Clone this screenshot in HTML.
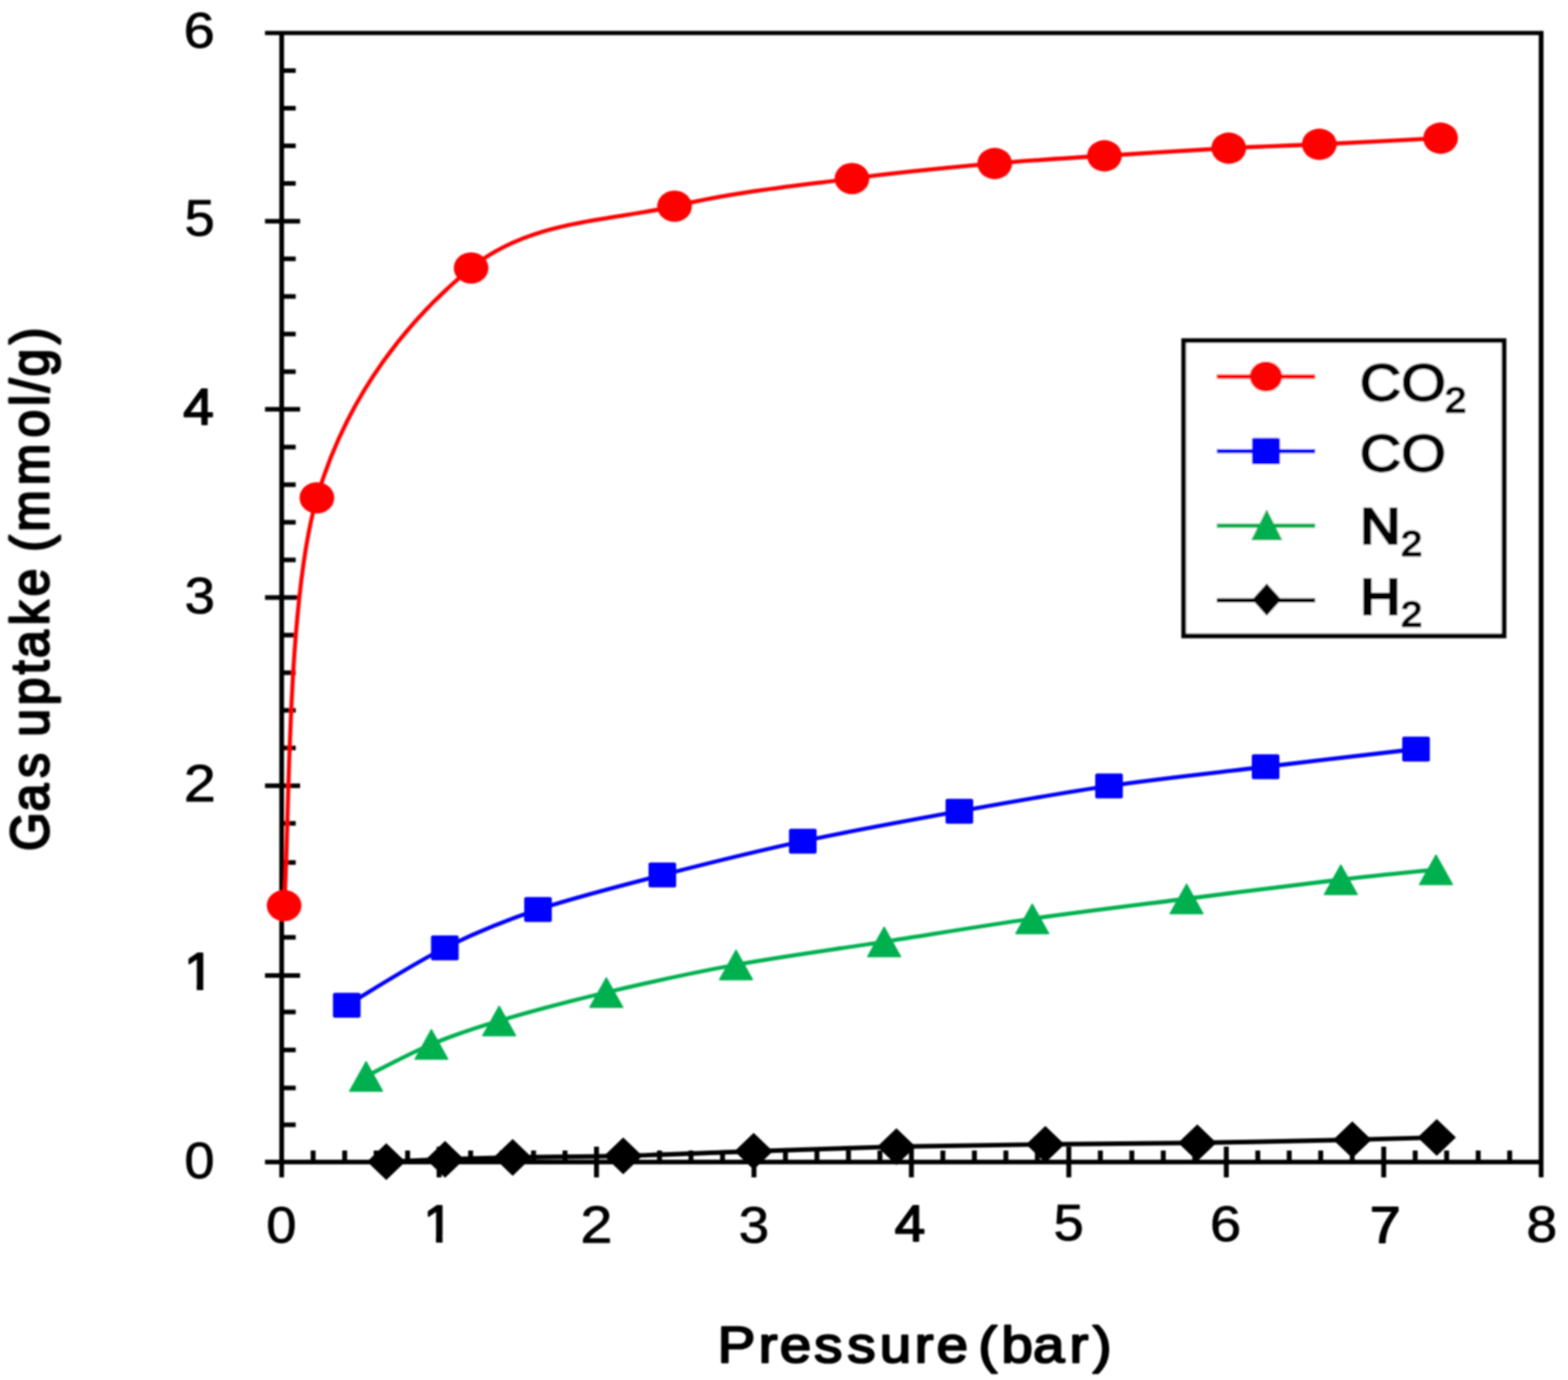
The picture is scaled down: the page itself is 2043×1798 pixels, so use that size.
<!DOCTYPE html>
<html lang="en"><head><meta charset="utf-8"><title>Gas uptake vs pressure</title>
<style>html,body{margin:0;padding:0;background:#fff;}body{width:2043px;height:1798px;overflow:hidden;}svg{display:block;}text{font-family:"Liberation Sans",sans-serif;fill:#000;}.t{stroke:#000;stroke-width:2.4px;stroke-linejoin:round;}</style></head><body>
<svg xmlns="http://www.w3.org/2000/svg" width="2043" height="1798" viewBox="0 0 2043 1798">
<defs><filter id="soft" x="-2%" y="-2%" width="104%" height="104%"><feGaussianBlur stdDeviation="1.1"/></filter><clipPath id="one"><rect x="-5" y="-80" width="80" height="72.65"/><rect x="15.90" y="-80" width="8.17" height="90"/></clipPath></defs>
<rect width="2043" height="1798" fill="#fff"/>
<g filter="url(#soft)">
<g stroke="#000" fill="none" stroke-linecap="butt">
<path d="M345.3 43.0 H2011.1" stroke-width="5.6"/>
<path d="M2008.0 43.0 V1534.0" stroke-width="6.2"/>
<path d="M367.0 43.0 V1534.0" stroke-width="6.2"/>
<path d="M345.3 1514.0 H2008.0" stroke-width="6.2"/>
<path d="M367.0 1465.5 H385.3 M367.0 1417.6 H385.3 M367.0 1367.9 H385.3 M367.0 1318.4 H385.3 M345.3 1271.0 H391.0 M367.0 1221.2 H385.3 M367.0 1172.3 H385.3 M367.0 1123.7 H385.3 M367.0 1072.7 H385.3 M345.3 1023.7 H391.0 M367.0 974.6 H385.3 M367.0 925.6 H385.3 M367.0 876.6 H385.3 M367.0 827.5 H385.3 M345.3 778.5 H391.0 M367.0 729.5 H385.3 M367.0 680.4 H385.3 M367.0 631.4 H385.3 M367.0 582.4 H385.3 M345.3 533.3 H391.0 M367.0 484.3 H385.3 M367.0 435.3 H385.3 M367.0 386.2 H385.3 M367.0 337.2 H385.3 M345.3 288.2 H391.0 M367.0 239.1 H385.3 M367.0 190.1 H385.3 M367.0 141.1 H385.3 M367.0 92.0 H385.3" stroke-width="6"/>
<path d="M408.0 1499.0 V1514.0 M449.1 1499.0 V1514.0 M490.1 1499.0 V1514.0 M531.1 1499.0 V1514.0 M572.1 1494.0 V1534.0 M613.2 1499.0 V1514.0 M654.2 1499.0 V1514.0 M695.2 1499.0 V1514.0 M736.2 1499.0 V1514.0 M777.2 1494.0 V1534.0 M818.3 1499.0 V1514.0 M859.3 1499.0 V1514.0 M900.3 1499.0 V1514.0 M941.4 1499.0 V1514.0 M982.4 1494.0 V1534.0 M1023.4 1499.0 V1514.0 M1064.4 1499.0 V1514.0 M1105.5 1499.0 V1514.0 M1146.5 1499.0 V1514.0 M1187.5 1494.0 V1534.0 M1228.5 1499.0 V1514.0 M1269.6 1499.0 V1514.0 M1310.6 1499.0 V1514.0 M1351.6 1499.0 V1514.0 M1392.6 1494.0 V1534.0 M1433.7 1499.0 V1514.0 M1474.7 1499.0 V1514.0 M1515.7 1499.0 V1514.0 M1556.7 1499.0 V1514.0 M1597.8 1494.0 V1534.0 M1638.8 1499.0 V1514.0 M1679.8 1499.0 V1514.0 M1720.8 1499.0 V1514.0 M1761.9 1499.0 V1514.0 M1802.9 1494.0 V1534.0 M1843.9 1499.0 V1514.0 M1884.9 1499.0 V1514.0 M1926.0 1499.0 V1514.0 M1967.0 1499.0 V1514.0" stroke-width="6.4"/>
</g>
<text transform="translate(240.37 1535.45) scale(1.0610 1)" font-size="66.52" stroke="#000" stroke-width="1.0" stroke-linejoin="round">0</text>
<text transform="translate(239.92 1288.63) scale(1.0339 1)" font-size="67.59" stroke="#000" stroke-width="2.2" stroke-linejoin="round" clip-path="url(#one)">1</text>
<text transform="translate(239.38 1044.37) scale(1.0958 1)" font-size="68.31" stroke="#000" stroke-width="1.0" stroke-linejoin="round">2</text>
<text transform="translate(240.42 799.34) scale(1.0585 1)" font-size="67.23" stroke="#000" stroke-width="1.0" stroke-linejoin="round">3</text>
<text transform="translate(238.73 552.93) scale(1.0606 1)" font-size="67.30" stroke="#000" stroke-width="2.2" stroke-linejoin="round">4</text>
<text transform="translate(240.50 306.51) scale(1.0571 1)" font-size="66.93" stroke="#000" stroke-width="1.0" stroke-linejoin="round">5</text>
<text transform="translate(239.16 62.17) scale(1.1233 1)" font-size="64.97" stroke="#000" stroke-width="1.0" stroke-linejoin="round">6</text>
<text transform="translate(346.97 1619.30) scale(1.0610 1)" font-size="66.52" stroke="#000" stroke-width="1.0" stroke-linejoin="round">0</text>
<text transform="translate(551.64 1617.65) scale(1.0339 1)" font-size="67.59" stroke="#000" stroke-width="2.2" stroke-linejoin="round" clip-path="url(#one)">1</text>
<text transform="translate(756.23 1618.55) scale(1.0958 1)" font-size="68.31" stroke="#000" stroke-width="1.0" stroke-linejoin="round">2</text>
<text transform="translate(962.39 1618.69) scale(1.0585 1)" font-size="67.23" stroke="#000" stroke-width="1.0" stroke-linejoin="round">3</text>
<text transform="translate(1165.83 1617.45) scale(1.0606 1)" font-size="67.30" stroke="#000" stroke-width="2.2" stroke-linejoin="round">4</text>
<text transform="translate(1372.72 1616.20) scale(1.0571 1)" font-size="66.93" stroke="#000" stroke-width="1.0" stroke-linejoin="round">5</text>
<text transform="translate(1576.51 1617.02) scale(1.1233 1)" font-size="64.97" stroke="#000" stroke-width="1.0" stroke-linejoin="round">6</text>
<text transform="translate(1785.09 1618.65) scale(1.0655 1)" font-size="67.01" stroke="#000" stroke-width="2.2" stroke-linejoin="round">7</text>
<text transform="translate(1988.71 1618.21) scale(1.0954 1)" font-size="65.96" stroke="#000" stroke-width="1.0" stroke-linejoin="round">8</text>
<text transform="translate(0 1774.9) scale(1.100 1)" font-size="67.0" stroke="#000" stroke-width="2.6" stroke-linejoin="round" x="849.9 898.6 923.7 964.4 1003.7 1042.1 1083.3 1109.3 1109.3 1158.8 1186.1 1223.7 1266.8 1294.3">Pressure (bar)</text>
<text transform="translate(62.7 1200) rotate(-90) scale(0.965 1.055)" font-size="67.0" stroke="#000" stroke-width="2.9" stroke-linejoin="round" x="94.7 148.0 193.3 193.3 249.0 291.3 333.2 355.2 399.3 438.5 438.5 498.4 525.8 588.3 653.0 695.3 713.8 735.4 778.7">Gas uptake (mmol/g)</text>
<path d="M503.3 1513.6 C516.1 1513.1 552.4 1511.5 579.9 1510.6 C607.4 1509.6 629.3 1508.7 668.0 1507.9 C706.7 1507.1 759.7 1507.3 812.0 1506.0 C864.3 1504.7 922.7 1502.0 982.0 1500.0 C1041.3 1498.0 1104.7 1495.5 1168.0 1494.0 C1231.3 1492.5 1296.7 1491.8 1362.0 1491.0 C1427.3 1490.2 1493.3 1490.0 1560.0 1489.0 C1626.7 1488.0 1710.0 1486.2 1762.0 1485.0 C1814.0 1483.8 1853.7 1482.5 1872.0 1482.0" stroke="#000000" stroke-width="5.9" fill="none" stroke-linejoin="round"/><path d="M503.3 1489.6 L528.3 1513.6 L503.3 1537.6 L478.3 1513.6 Z" fill="#000000"/><path d="M579.9 1486.6 L604.9 1510.6 L579.9 1534.6 L554.9 1510.6 Z" fill="#000000"/><path d="M668.0 1483.9 L693.0 1507.9 L668.0 1531.9 L643.0 1507.9 Z" fill="#000000"/><path d="M812.0 1482.0 L837.0 1506.0 L812.0 1530.0 L787.0 1506.0 Z" fill="#000000"/><path d="M982.0 1476.0 L1007.0 1500.0 L982.0 1524.0 L957.0 1500.0 Z" fill="#000000"/><path d="M1168.0 1470.0 L1193.0 1494.0 L1168.0 1518.0 L1143.0 1494.0 Z" fill="#000000"/><path d="M1362.0 1467.0 L1387.0 1491.0 L1362.0 1515.0 L1337.0 1491.0 Z" fill="#000000"/><path d="M1560.0 1465.0 L1585.0 1489.0 L1560.0 1513.0 L1535.0 1489.0 Z" fill="#000000"/><path d="M1762.0 1461.0 L1787.0 1485.0 L1762.0 1509.0 L1737.0 1485.0 Z" fill="#000000"/><path d="M1872.0 1458.0 L1897.0 1482.0 L1872.0 1506.0 L1847.0 1482.0 Z" fill="#000000"/>
<path d="M477.0 1402.3 C491.2 1395.3 533.2 1372.6 562.1 1360.6 C591.0 1348.5 612.4 1341.3 650.4 1330.0 C688.4 1318.7 738.6 1305.2 790.0 1293.0 C841.4 1280.8 898.7 1268.0 959.0 1257.0 C1019.3 1246.0 1087.7 1237.0 1152.0 1227.0 C1216.3 1217.0 1279.3 1206.3 1345.0 1197.0 C1410.7 1187.7 1479.0 1179.5 1546.0 1171.0 C1613.0 1162.5 1692.8 1152.3 1747.0 1146.0 C1801.2 1139.7 1850.3 1135.2 1871.0 1133.0" stroke="#00b050" stroke-width="5.3" fill="none" stroke-linejoin="round"/><path d="M477.0 1383.1 L498.5 1421.7 L455.5 1421.7 Z" fill="#00b050" stroke="#00b050" stroke-width="1.5" stroke-linejoin="round"/><path d="M562.1 1341.4 L583.6 1380.0 L540.6 1380.0 Z" fill="#00b050" stroke="#00b050" stroke-width="1.5" stroke-linejoin="round"/><path d="M650.4 1310.8 L671.9 1349.4 L628.9 1349.4 Z" fill="#00b050" stroke="#00b050" stroke-width="1.5" stroke-linejoin="round"/><path d="M790.0 1273.8 L811.5 1312.4 L768.5 1312.4 Z" fill="#00b050" stroke="#00b050" stroke-width="1.5" stroke-linejoin="round"/><path d="M959.0 1237.8 L980.5 1276.4 L937.5 1276.4 Z" fill="#00b050" stroke="#00b050" stroke-width="1.5" stroke-linejoin="round"/><path d="M1152.0 1207.8 L1173.5 1246.4 L1130.5 1246.4 Z" fill="#00b050" stroke="#00b050" stroke-width="1.5" stroke-linejoin="round"/><path d="M1345.0 1177.8 L1366.5 1216.4 L1323.5 1216.4 Z" fill="#00b050" stroke="#00b050" stroke-width="1.5" stroke-linejoin="round"/><path d="M1546.0 1151.8 L1567.5 1190.4 L1524.5 1190.4 Z" fill="#00b050" stroke="#00b050" stroke-width="1.5" stroke-linejoin="round"/><path d="M1747.0 1126.8 L1768.5 1165.4 L1725.5 1165.4 Z" fill="#00b050" stroke="#00b050" stroke-width="1.5" stroke-linejoin="round"/><path d="M1871.0 1113.8 L1892.5 1152.4 L1849.5 1152.4 Z" fill="#00b050" stroke="#00b050" stroke-width="1.5" stroke-linejoin="round"/>
<path d="M451.8 1309.8 C473.1 1297.3 538.1 1255.8 579.6 1235.0 C621.1 1214.2 653.8 1200.8 701.0 1185.0 C748.2 1169.2 805.5 1154.8 863.0 1140.0 C920.5 1125.2 981.5 1109.8 1046.0 1096.0 C1110.5 1082.2 1183.5 1069.0 1250.0 1057.0 C1316.5 1045.0 1378.5 1033.7 1445.0 1024.0 C1511.5 1014.3 1582.3 1007.0 1649.0 999.0 C1715.7 991.0 1812.3 979.8 1845.0 976.0" stroke="#0000ff" stroke-width="5.3" fill="none" stroke-linejoin="round"/><rect x="433.8" y="1293.5" width="36.0" height="32.6" rx="2.5" fill="#0000ff"/><rect x="561.6" y="1218.7" width="36.0" height="32.6" rx="2.5" fill="#0000ff"/><rect x="683.0" y="1168.7" width="36.0" height="32.6" rx="2.5" fill="#0000ff"/><rect x="845.0" y="1123.7" width="36.0" height="32.6" rx="2.5" fill="#0000ff"/><rect x="1028.0" y="1079.7" width="36.0" height="32.6" rx="2.5" fill="#0000ff"/><rect x="1232.0" y="1040.7" width="36.0" height="32.6" rx="2.5" fill="#0000ff"/><rect x="1427.0" y="1007.7" width="36.0" height="32.6" rx="2.5" fill="#0000ff"/><rect x="1631.0" y="982.7" width="36.0" height="32.6" rx="2.5" fill="#0000ff"/><rect x="1827.0" y="959.7" width="36.0" height="32.6" rx="2.5" fill="#0000ff"/>
<path d="M370.2 1179.8 C377.3 1091.3 372.3 787.0 412.9 648.6 C453.5 510.2 536.1 412.5 613.8 349.2 C691.5 285.9 796.2 288.0 878.9 268.6 C961.6 249.2 1040.6 241.9 1110.1 232.6 C1179.6 223.3 1241.2 217.9 1296.0 213.0 C1350.8 208.1 1388.2 206.3 1439.0 203.0 C1489.8 199.7 1554.3 195.5 1601.0 193.0 C1647.7 190.5 1673.0 190.2 1719.0 188.0 C1765.0 185.8 1850.7 181.3 1877.0 180.0" stroke="#ff0000" stroke-width="5.3" fill="none" stroke-linejoin="round"/><ellipse cx="370.2" cy="1179.8" rx="22.6" ry="20.4" fill="#ff0000"/><ellipse cx="412.9" cy="648.6" rx="22.6" ry="20.4" fill="#ff0000"/><ellipse cx="613.8" cy="349.2" rx="22.6" ry="20.4" fill="#ff0000"/><ellipse cx="878.9" cy="268.6" rx="22.6" ry="20.4" fill="#ff0000"/><ellipse cx="1110.1" cy="232.6" rx="22.6" ry="20.4" fill="#ff0000"/><ellipse cx="1296.0" cy="213.0" rx="22.6" ry="20.4" fill="#ff0000"/><ellipse cx="1439.0" cy="203.0" rx="22.6" ry="20.4" fill="#ff0000"/><ellipse cx="1601.0" cy="193.0" rx="22.6" ry="20.4" fill="#ff0000"/><ellipse cx="1719.0" cy="188.0" rx="22.6" ry="20.4" fill="#ff0000"/><ellipse cx="1877.0" cy="180.0" rx="22.6" ry="20.4" fill="#ff0000"/>
<rect x="1542.3" y="443.8" width="417.3" height="384.7" fill="#fff" stroke="#000" stroke-width="6.2"/>
<path d="M1585.5 490.6 H1713.5" stroke="#ff0000" stroke-width="5.6" fill="none"/>
<ellipse cx="1649.5" cy="490.6" rx="21.2" ry="19.6" fill="#ff0000"/>
<text class="t" transform="translate(1771.7 521.9) scale(1.105 1)" font-size="67.6">CO<tspan font-size="45.5" dx="-1.2" dy="14.6">2</tspan></text>
<path d="M1585.5 587.7 H1713.5" stroke="#0000ff" stroke-width="5.6" fill="none"/>
<rect x="1631.2" y="570.5" width="36.6" height="34.4" rx="2.5" fill="#0000ff"/>
<text class="t" transform="translate(1771.7 614.0) scale(1.105 1)" font-size="67.6">CO</text>
<path d="M1585.5 684.9 H1713.5" stroke="#00b050" stroke-width="5.6" fill="none"/>
<path d="M1650.5 665.1 L1669.8 703.3 L1631.2 703.3 Z" fill="#00b050" stroke="#00b050" stroke-width="1.5" stroke-linejoin="round"/>
<text transform="translate(1772.6 708.2) scale(1.098 1)" font-size="65.6" stroke="#000" stroke-width="3.6" stroke-linejoin="miter">N<tspan font-size="45.5" stroke-width="2.4" stroke-linejoin="round" dx="0.6" dy="15.6">2</tspan></text>
<path d="M1585.5 782.3 H1713.5" stroke="#000000" stroke-width="5.6" fill="none"/>
<path d="M1650.5 760.3 L1669.5 781.3 L1650.5 802.3 L1631.5 781.3 Z" fill="#000000"/>
<text transform="translate(1772.6 799.9) scale(1.098 1)" font-size="65.6" stroke="#000" stroke-width="3.6" stroke-linejoin="miter">H<tspan font-size="45.5" stroke-width="2.4" stroke-linejoin="round" dx="0.6" dy="15.6">2</tspan></text>
</g>
</svg></body></html>
